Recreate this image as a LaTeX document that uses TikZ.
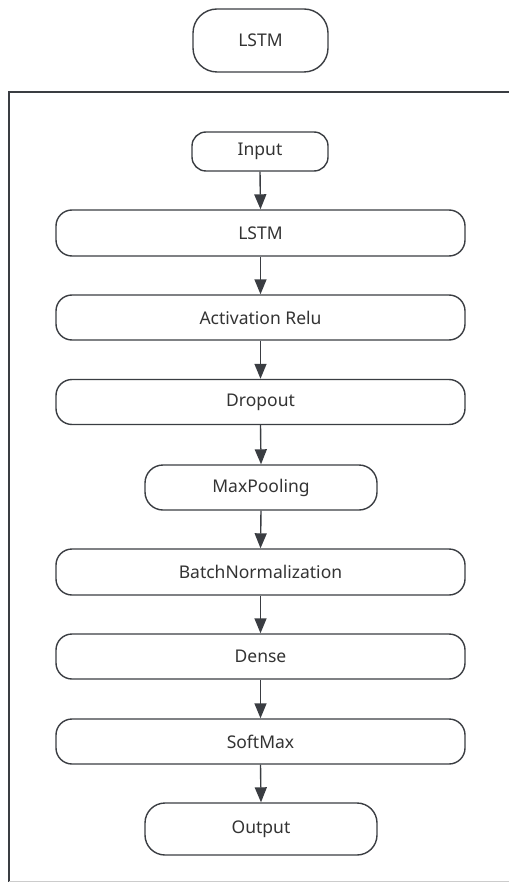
\documentclass[tikz,border=0pt]{standalone}
\usepackage{fontspec}
\setmainfont{Noto Sans}
\usetikzlibrary{arrows.meta}
\definecolor{edge}{HTML}{3A3D42}
\definecolor{ink}{HTML}{333333}
\begin{document}
\begin{tikzpicture}[x=1pt,y=-1pt,
  layer/.style={draw=edge, line width=1.4pt, text=ink, font=\fontsize{17.5}{20}\selectfont,
    inner sep=0pt, anchor=center},
  flow/.style={draw=edge, line width=1.4pt, -{Triangle[length=15pt,width=12pt]}}]
\useasboundingbox (0,0) rectangle (508,882);
% title block
\node[layer, rounded corners=24pt, minimum width=135pt, minimum height=63pt] (title) at (260.5,40.5) {LSTM};
% enclosing frame, open on the right
\draw[edge, line width=1.4pt] (510,92) -- (9,92) -- (9,884);
\draw[gray!40, line width=1pt] (9,881) -- (510,881);
% network layers
\node[layer, rounded corners=14pt, minimum width=136pt, minimum height=39pt] (in) at (260,151.5) {Input};
\node[layer, rounded corners=16pt, minimum width=409pt, minimum height=46pt] (lstm) at (260.5,233) {LSTM};
\node[layer, rounded corners=16pt, minimum width=409pt, minimum height=45pt] (act) at (260.5,317.5) {Activation Relu};
\node[layer, rounded corners=16pt, minimum width=409pt, minimum height=45pt] (drop) at (260.5,402) {Dropout};
\node[layer, rounded corners=18pt, minimum width=232pt, minimum height=45pt] (pool) at (261,487.5) {MaxPooling};
\node[layer, rounded corners=16pt, minimum width=409pt, minimum height=46pt] (bn) at (260.5,572) {BatchNormalization};
\node[layer, rounded corners=16pt, minimum width=409pt, minimum height=45pt] (dense) at (260.5,656.5) {Dense};
\node[layer, rounded corners=16pt, minimum width=409pt, minimum height=45pt] (soft) at (260.5,741.5) {SoftMax};
\node[layer, rounded corners=20pt, minimum width=232pt, minimum height=52pt] (out) at (261,829) {Output};
% connectors
\foreach \a/\b in {in/lstm, lstm/act, act/drop, drop/pool, pool/bn, bn/dense, dense/soft, soft/out}
  \draw[flow] (\a.south) -- (\b.north);
\end{tikzpicture}
\end{document}
